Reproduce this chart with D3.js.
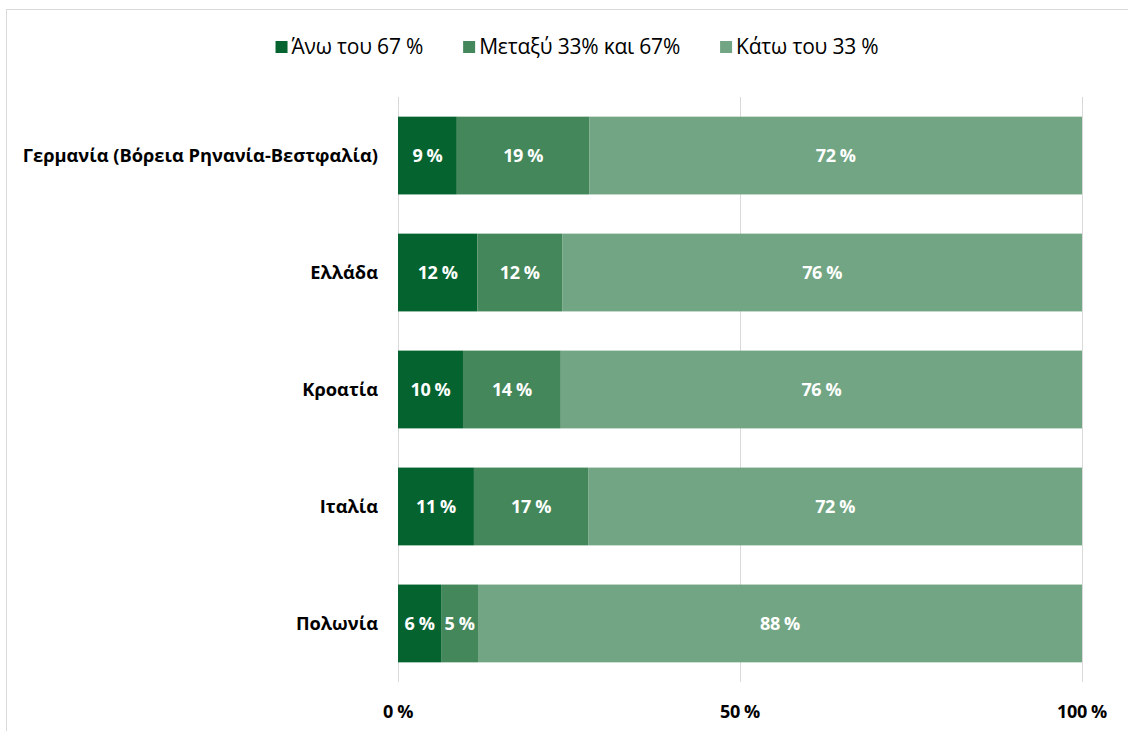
<!DOCTYPE html>
<html lang="el">
<head>
  <meta charset="UTF-8">
  <title>Stacked bars</title>
  <script src="https://cdn.jsdelivr.net/npm/d3@7"></script>
  <style>
    body { margin: 0; background: #fff; }
    text { font-family: "Open Sans", "Noto Sans", sans-serif; }
  </style>
</head>
<body>
  <script>
    // data
    var regions = ["Γερμανία (Βόρεια Ρηνανία-Βεστφαλία)", "Ελλάδα", "Κροατία", "Ιταλία", "Πολωνία"];
    var seriesNames = ["Άνω του 67 %", "Μεταξύ 33% και 67%", "Κάτω του 33 %"];
    var above67 = [8.6, 11.6, 9.5, 11.1, 6.3];
    var between = [19.4, 12.4, 14.3, 16.7, 5.4];
    var below33 = [72.0, 76.0, 76.2, 72.2, 88.3];
    var labelsAbove = ["9 %", "12 %", "10 %", "11 %", "6 %"];
    var labelsBetween = ["19 %", "12 %", "14 %", "17 %", "5 %"];
    var labelsBelow = ["72 %", "76 %", "76 %", "72 %", "88 %"];
    var tickValues = [0, 50, 100];
    var tickLabels = ["0 %", "50 %", "100 %"];

    var colors = ["#05632f", "#43875a", "#72a583"];

    var width = 1128, height = 731;
    var svg = d3.select("body").append("svg")
      .attr("width", width)
      .attr("height", height);

    // outer border
    svg.append("rect")
      .attr("x", 6.5).attr("y", 9.5)
      .attr("width", 1140).attr("height", 740)
      .attr("fill", "none")
      .attr("stroke", "#d9d9d9");

    var x = d3.scaleLinear().domain([0, 100]).range([398, 1082]);
    var y = d3.scaleBand().domain(regions).range([97, 682]).paddingInner(0.335).paddingOuter(0.168);

    // gridlines
    svg.selectAll("line.grid")
      .data(tickValues)
      .enter().append("line")
        .attr("class", "grid")
        .attr("x1", function(d) { return x(d) + 0.5; })
        .attr("x2", function(d) { return x(d) + 0.5; })
        .attr("y1", 97).attr("y2", 682)
        .attr("stroke", "#d9d9d9");

    // stacked rows
    var rows = regions.map(function(r, i) {
      return { region: r, values: [above67[i], between[i], below33[i]],
               labels: [labelsAbove[i], labelsBetween[i], labelsBelow[i]] };
    });

    rows.forEach(function(row) {
      var start = 0;
      row.values.forEach(function(v, k) {
        var x0 = start, x1 = Math.min(100, start + v);
        start = x1;
        svg.append("rect")
          .attr("x", x(x0))
          .attr("y", y(row.region))
          .attr("width", x(x1) - x(x0))
          .attr("height", y.bandwidth())
          .attr("fill", colors[k]);
        svg.append("text")
          .attr("x", (x(x0) + x(x1)) / 2)
          .attr("y", y(row.region) + y.bandwidth() / 2)
          .attr("dy", "0.35em")
          .attr("text-anchor", "middle")
          .attr("fill", "#fff")
          .attr("font-size", 18)
          .attr("font-weight", "bold")
          .attr("letter-spacing", "-0.4")
          .text(row.labels[k]);
      });
      // category label
      svg.append("text")
        .attr("x", 378)
        .attr("y", y(row.region) + y.bandwidth() / 2)
        .attr("dy", "0.35em")
        .attr("text-anchor", "end")
        .attr("font-size", 18.3)
        .attr("font-weight", "bold")
        .attr("fill", "#000")
        .text(row.region);
    });

    // x tick labels
    svg.selectAll("text.tick")
      .data(tickValues)
      .enter().append("text")
        .attr("class", "tick")
        .attr("x", function(d) { return x(d); })
        .attr("y", 712)
        .attr("dy", "0.35em")
        .attr("text-anchor", "middle")
        .attr("font-size", 18)
        .attr("font-weight", "bold")
        .attr("letter-spacing", "-0.4")
        .text(function(d, i) { return tickLabels[i]; });

    // legend
    var legend = svg.append("g");
    var lx = 0;
    seriesNames.forEach(function(name, k) {
      var g = legend.append("g").attr("transform", "translate(" + lx + ",0)");
      g.append("rect")
        .attr("x", 0).attr("y", -6)
        .attr("width", 12).attr("height", 12)
        .attr("fill", colors[k]);
      var t = g.append("text")
        .attr("x", 16)
        .attr("dy", "0.35em")
        .attr("font-size", 21)
        .attr("letter-spacing", "-0.2")
        .text(name);
      lx += 16 + t.node().getComputedTextLength() + 40;
    });
    var legendWidth = lx - 40;
    legend.attr("transform", "translate(" + (577 - legendWidth / 2) + ",47)");
  </script>
</body>
</html>
